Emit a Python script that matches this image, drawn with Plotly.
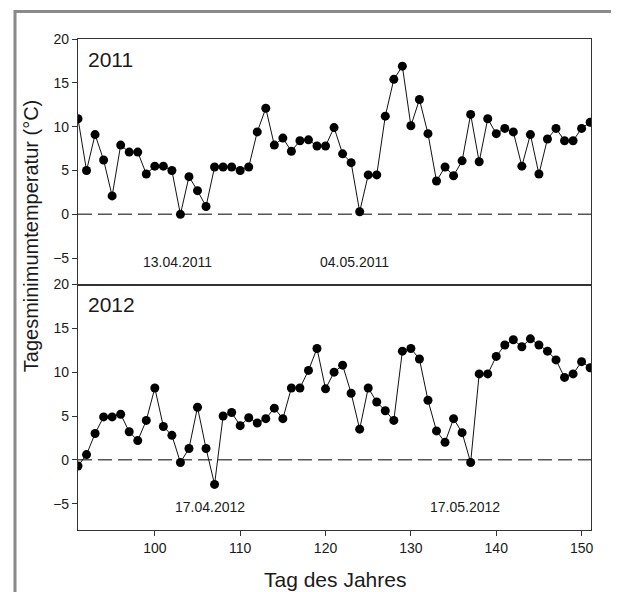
import plotly.graph_objects as go
from plotly.subplots import make_subplots

days = list(range(91, 152))

tmin_2011 = [10.9, 5.0, 9.1, 6.2, 2.1, 7.9, 7.1, 7.1, 4.6, 5.5,
             5.5, 5.0, 0.0, 4.3, 2.7, 0.9, 5.4, 5.4, 5.4, 5.0,
             5.4, 9.4, 12.1, 7.9, 8.7, 7.2, 8.4, 8.5, 7.8, 7.8,
             9.9, 6.9, 5.9, 0.3, 4.5, 4.5, 11.2, 15.4, 16.9, 10.1,
             13.1, 9.2, 3.8, 5.4, 4.4, 6.1, 11.4, 6.0, 10.9, 9.2,
             9.8, 9.4, 5.5, 9.1, 4.6, 8.6, 9.8, 8.4, 8.4, 9.8, 10.5]

tmin_2012 = [-0.7, 0.6, 3.0, 4.9, 4.9, 5.2, 3.2, 2.2, 4.5, 8.2,
             3.8, 2.8, -0.3, 1.3, 6.0, 1.3, -2.8, 5.0, 5.4, 3.9,
             4.8, 4.2, 4.7, 5.9, 4.7, 8.2, 8.2, 10.2, 12.7, 8.1,
             10.0, 10.8, 7.6, 3.5, 8.2, 6.6, 5.6, 4.5, 12.4, 12.7,
             11.5, 6.8, 3.3, 2.0, 4.7, 3.1, -0.3, 9.8, 9.8, 11.8,
             13.1, 13.7, 12.9, 13.8, 13.1, 12.4, 11.4, 9.4, 9.8, 11.2, 10.5]

panel_labels = ["2011", "2012"]
date_labels_2011 = ["13.04.2011", "04.05.2011"]
date_pos_2011 = [102.7, 123.4]
date_labels_2012 = ["17.04.2012", "17.05.2012"]
date_pos_2012 = [106.5, 136.3]
y_ticks = [-5, 0, 5, 10, 15, 20]
x_ticks = [100, 110, 120, 130, 140, 150]

FONT = "Liberation Sans, Arial, sans-serif"
LINE_C = "#333333"
TXT_C = "#1a1a1a"

fig = make_subplots(rows=2, cols=1, shared_xaxes=True, vertical_spacing=0)

for r, vals in ((1, tmin_2011), (2, tmin_2012)):
    fig.add_trace(go.Scatter(
        x=days, y=vals, mode="lines+markers",
        line=dict(color="#111111", width=1),
        marker=dict(color="black", size=9),
        showlegend=False, hoverinfo="skip"), row=r, col=1)
    yref = "y" if r == 1 else "y2"
    fig.add_shape(type="line", xref="x domain", yref=yref, x0=0, x1=1, y0=0, y1=0,
                  line=dict(color="#555555", width=1.5, dash="14px,6px"), layer="below")

axis_common = dict(showline=True, linecolor=LINE_C, linewidth=1.2, mirror=True,
                   showgrid=False, zeroline=False,
                   tickfont=dict(family=FONT, size=14, color=TXT_C))

fig.update_xaxes(range=[91, 151.1], tickvals=x_ticks, **axis_common)
fig.update_xaxes(ticks="", showticklabels=False, row=1, col=1)
fig.update_xaxes(ticks="outside", ticklen=5, tickcolor=LINE_C, row=2, col=1)
fig.update_yaxes(range=[-8, 20], tickvals=y_ticks, ticks="outside", ticklen=5,
                 tickcolor=LINE_C, **axis_common)

annotations = []
for i, lbl in enumerate(panel_labels):
    annotations.append(dict(text=lbl, xref="x domain" if i == 0 else "x2 domain",
                            yref="y" if i == 0 else "y2", x=0.015, y=17.7,
                            xanchor="left", yanchor="middle", showarrow=False,
                            font=dict(family=FONT, size=21, color=TXT_C)))
for lbl, xp in zip(date_labels_2011, date_pos_2011):
    annotations.append(dict(text=lbl, xref="x", yref="y", x=xp, y=-5.45,
                            showarrow=False, font=dict(family=FONT, size=14, color=TXT_C)))
for lbl, xp in zip(date_labels_2012, date_pos_2012):
    annotations.append(dict(text=lbl, xref="x2", yref="y2", x=xp, y=-5.35,
                            showarrow=False, font=dict(family=FONT, size=14, color=TXT_C)))
annotations.append(dict(text="Tagesminimumtemperatur (°C)", xref="paper", yref="paper",
                        x=-0.090, y=0.600, textangle=-90, showarrow=False,
                        xanchor="center", yanchor="middle",
                        font=dict(family=FONT, size=20, color=TXT_C)))
annotations.append(dict(text="Tag des Jahres", xref="paper", yref="paper",
                        x=0.501, y=-0.100, showarrow=False,
                        xanchor="center", yanchor="middle",
                        font=dict(family=FONT, size=21, color=TXT_C)))

fig.add_shape(type="rect", xref="paper", yref="paper",
              x0=-0.1228, x1=1.0429, y0=-0.2, y1=1.056,
              line=dict(color="#8a8a8a", width=3))

# page body has an 8px default margin, so the figure is sized to fit the window
fig.update_layout(
    width=611, height=584,
    margin=dict(l=70, r=28, t=30.5, b=62),
    paper_bgcolor="white", plot_bgcolor="white",
    annotations=annotations,
    font=dict(family=FONT, color=TXT_C),
)

fig.write_html("out.html")
